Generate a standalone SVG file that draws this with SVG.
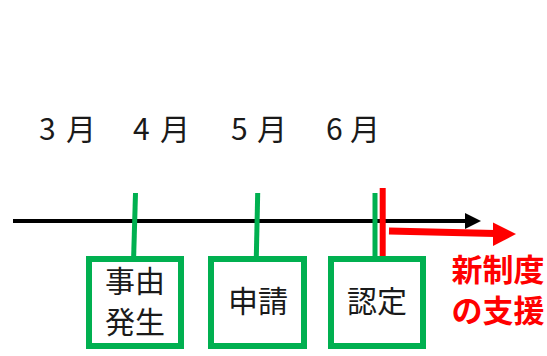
<svg xmlns="http://www.w3.org/2000/svg" width="547" height="356" viewBox="0 0 547 356">
<style>
.t{font-family:"Noto Sans CJK JP","Noto Sans",sans-serif;fill:#1a1a1a;font-size:30px}
.box{fill:#fff;stroke:#00b050;stroke-width:6}
.tick{stroke:#00b050;stroke-width:5;fill:none}
.red{font-family:"Noto Sans CJK JP","Noto Sans",sans-serif;fill:#ff0000;font-size:31px;font-weight:bold}
</style>
<rect width="547" height="356" fill="#fff"/>
<g id="months">
<text class="t" y="140" xml:space="preserve"><tspan x="39">3 </tspan><tspan x="66">月</tspan></text>
<text class="t" y="140" xml:space="preserve"><tspan x="133">4 </tspan><tspan x="160">月</tspan></text>
<text class="t" y="140" xml:space="preserve"><tspan x="231">5 </tspan><tspan x="257">月</tspan></text>
<text class="t" y="140" xml:space="preserve"><tspan x="326">6 </tspan><tspan x="350">月</tspan></text>
</g>
<g id="connectors">
<line x1="13" y1="221" x2="468" y2="221" stroke="#000" stroke-width="4"/>
<polygon points="465,213 481,221 465,229" fill="#000"/>
<line class="tick" x1="135.5" y1="193" x2="133.5" y2="262"/>
<line class="tick" x1="257.7" y1="193" x2="256.2" y2="262"/>
<line class="tick" x1="375" y1="193" x2="375" y2="262"/>
<line x1="382.7" y1="188" x2="382.7" y2="256" stroke="#ff0000" stroke-width="6"/>
<line x1="389" y1="231" x2="495" y2="233.5" stroke="#ff0000" stroke-width="7"/>
<polygon points="493,222.5 516,234 493,246" fill="#ff0000"/>
</g>
<g id="node-jiyu">
<rect class="box" x="89" y="259" width="92" height="87"/>
<text class="t" x="135" y="292" text-anchor="middle">事由</text>
<text class="t" x="135" y="333" text-anchor="middle">発生</text>
</g>
<g id="node-shinsei">
<rect class="box" x="211" y="259" width="93" height="87"/>
<text class="t" x="258" y="312" text-anchor="middle">申請</text>
</g>
<g id="node-nintei">
<rect class="box" x="331" y="259" width="92" height="87"/>
<text class="t" x="377" y="312" text-anchor="middle">認定</text>
</g>
<g id="new-support">
<text class="red" text-anchor="middle"><tspan x="498" y="281">新制度</tspan><tspan x="498" y="322">の支援</tspan></text>
</g>
</svg>
